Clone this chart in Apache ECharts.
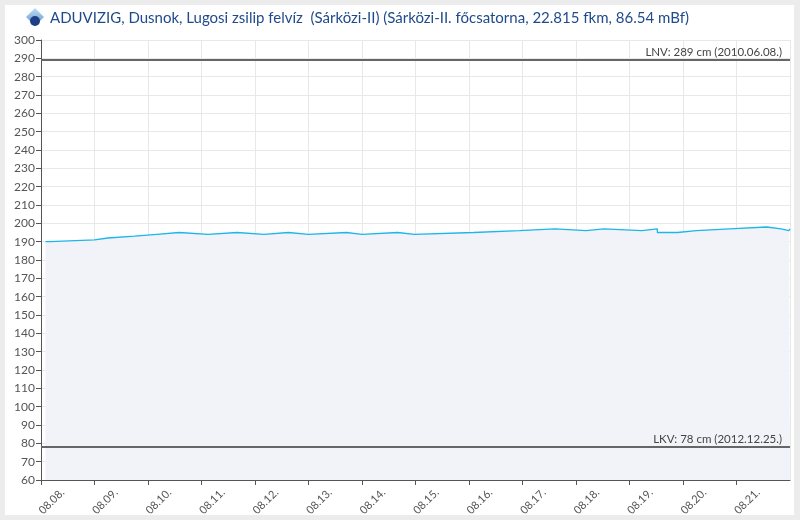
<!DOCTYPE html>
<html>
<head>
<meta charset="utf-8">
<script src="https://cdn.jsdelivr.net/npm/echarts@6/dist/echarts.min.js"></script>
<style>
  html, body { margin: 0; padding: 0; background: #ececec; width: 800px; height: 520px; overflow: hidden; }
  #chart { position: absolute; left: 5px; top: 5px; width: 789px; height: 510px; background: #fff; }
</style>
</head>
<body>
<div id="chart"></div>
<script>
var titleText = 'ADUVIZIG, Dusnok, Lugosi zsilip felvíz  (Sárközi-II) (Sárközi-II. főcsatorna, 22.815 fkm, 86.54 mBf)';
var tickLabels = ['08.08.', '08.09.', '08.10.', '08.11.', '08.12.', '08.13.', '08.14.',
                  '08.15.', '08.16.', '08.17.', '08.18.', '08.19.', '08.20.', '08.21.'];
// water level changes (time of change, new level in cm)
var changeTimes = ['08.08 02:00', '08.08 04:00', '08.09 00:00', '08.09 06:00', '08.09 18:00',
                   '08.10 04:00', '08.10 14:00', '08.11 03:00', '08.11 16:00', '08.12 04:00',
                   '08.12 15:00', '08.13 00:00', '08.13 17:00', '08.14 00:00', '08.14 16:00',
                   '08.14 23:30', '08.16 02:00', '08.16 22:30', '08.17 14:30', '08.18 04:30',
                   '08.18 12:30', '08.19 05:30', '08.19 12:30', '08.19 21:30', '08.20 06:00',
                   '08.20 21:00', '08.21 13:30', '08.21 20:00', '08.21 23:30', '08.22 00:00'];
var levels = [190, 191, 192, 193, 194,
              195, 194, 195, 194, 195,
              194, 195, 194, 195, 194,
              195, 196, 197, 196, 197,
              196, 197, 195, 196, 197,
              198, 197, 196, 197, 197];
var limitNames = ['LNV', 'LKV'];
var limitValues = [289, 78];
var limitDates = ['2010.06.08.', '2012.12.25.'];

function toHours(s) {
  var p = s.split(' ');
  var day = parseInt(p[0].split('.')[1], 10) - 8;
  var hm = p[1].split(':');
  return day * 24 + parseInt(hm[0], 10) + parseInt(hm[1], 10) / 60;
}

// level holds until the next change, then jumps
var seriesData = [];
changeTimes.forEach(function (t, i) {
  var h = toHours(t);
  if (i > 0) seriesData.push([h, levels[i - 1]]);
  seriesData.push([h, levels[i]]);
});
var limitLines = limitNames.map(function (n, i) {
  return {
    yAxis: limitValues[i],
    label: { formatter: n + ': ' + limitValues[i] + ' cm (' + limitDates[i] + ')' }
  };
});

var chart = echarts.init(document.getElementById('chart'));
chart.setOption({
  animation: false,
  textStyle: { fontFamily: 'Lato, "Noto Sans", sans-serif' },
  graphic: [
    { type: 'polygon', shape: { points: [[30, 3], [39, 12], [30, 21], [21, 12]] },
      style: { fill: { type: 'linear', x: 0, y: 0, x2: 0, y2: 1,
        colorStops: [{ offset: 0, color: '#bfe0f5' }, { offset: 1, color: '#5d8fc8' }] } } },
    { type: 'circle', shape: { cx: 30, cy: 16, r: 5 }, style: { fill: '#1d3f86' } },
    { type: 'text', left: 45, top: 6,
      style: { text: titleText, fill: '#1f4a8c', fontSize: 15, fontFamily: 'Lato, "Noto Sans", sans-serif' } }
  ],
  grid: { left: 36, right: 4, top: 35, bottom: 35, outerBoundsMode: 'none' },
  xAxis: {
    type: 'value', min: 0, max: 336, interval: 24,
    axisLine: { lineStyle: { color: '#555' } },
    axisTick: { show: true, length: 5, lineStyle: { color: '#555' } },
    axisLabel: {
      rotate: 45, color: '#555', fontSize: 11, margin: 32,
      align: 'center', verticalAlign: 'middle', padding: [0, 0, 0, 30],
      showMaxLabel: false,
      formatter: function (v) { return v < 336 ? tickLabels[v / 24] : ''; }
    },
    splitLine: { show: true, lineStyle: { color: '#e8e8e8' } }
  },
  yAxis: {
    type: 'value', min: 60, max: 300, interval: 10,
    axisLine: { show: true, lineStyle: { color: '#555' } },
    axisTick: { show: true, length: 5, lineStyle: { color: '#555' } },
    axisLabel: { color: '#555', fontSize: 12, margin: 6 },
    splitLine: { show: true, lineStyle: { color: '#e8e8e8' } }
  },
  series: [{
    type: 'line',
    data: seriesData,
    symbol: 'none',
    lineStyle: { color: '#1db6ea', width: 1.3 },
    areaStyle: { color: '#f2f3f8', opacity: 1, origin: 'start' },
    markLine: {
      silent: true,
      symbol: 'none',
      lineStyle: { color: '#666', width: 2, type: 'solid' },
      label: { position: 'insideEndTop', color: '#444', fontSize: 11.5, distance: [8, 2] },
      data: limitLines
    }
  }]
});
</script>
</body>
</html>
